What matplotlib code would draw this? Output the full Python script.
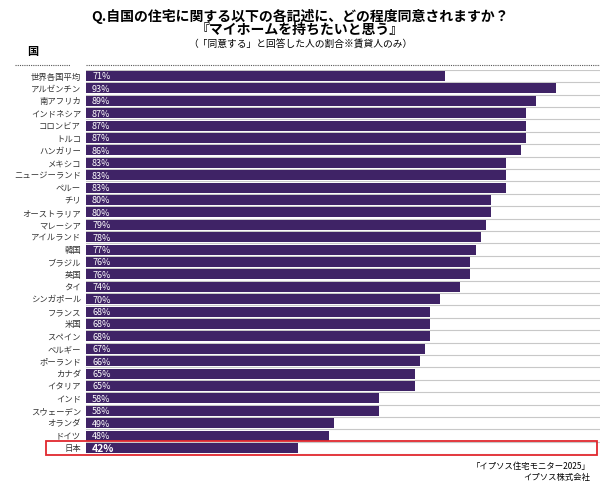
import matplotlib
matplotlib.use("Agg")
import matplotlib.pyplot as plt
from matplotlib.patches import Rectangle
from matplotlib.lines import Line2D

plt.rcParams['font.family'] = ['Noto Sans CJK JP', 'DejaVu Sans']

countries = ["世界各国平均","アルゼンチン","南アフリカ","インドネシア","コロンビア","トルコ","ハンガリー","メキシコ",
             "ニュージーランド","ペルー","チリ","オーストラリア","マレーシア","アイルランド","韓国","ブラジル","英国","タイ",
             "シンガポール","フランス","米国","スペイン","ベルギー","ポーランド","カナダ","イタリア","インド","スウェーデン",
             "オランダ","ドイツ","日本"]
values = [71,93,89,87,87,87,86,83,83,83,80,80,79,78,77,76,76,74,70,68,68,68,67,66,65,65,58,58,49,48,42]

W, H = 600, 489
fig = plt.figure(figsize=(6, 4.89), dpi=100)
n = len(values)
sp = (449 - 77) / (n - 1)
top_px, bot_px = 77 - sp/2, 449 + sp/2
ax = fig.add_axes([86/W, 1 - bot_px/H, 1 - 86/W, (bot_px - top_px)/H])
y = list(range(n))
ax.barh(y, values, height=0.8, color="#3f2366", zorder=3)
for i in range(n + 1):
    ax.axhline(i - 0.5, color="#c8c8c8", lw=0.8, zorder=1)
for i, (c, v) in enumerate(zip(countries, values)):
    last = i == n - 1
    ax.text(1.2, i, f"{v}%", color="white", va="center", ha="left",
            fontsize=7.5 if last else 6.5, fontweight="bold" if last else "normal", zorder=4)
    ax.text(-5/5.06, i, c, va="center", ha="right", fontsize=6, color="#333333")
ax.set_xlim(0, 101.6)
ax.set_ylim(n - 0.5, -0.5)
ax.axis("off")

fig.add_artist(Rectangle((46/W, 1 - 456/H), (597-46)/W, 14/H, transform=fig.transFigure,
                         fill=False, edgecolor="#e0282e", lw=1.3))
fig.add_artist(Line2D([15/W, 70/W], [1-66/H]*2, ls=(0,(1,1)), color="#555555", lw=0.8))
fig.add_artist(Line2D([86/W, 1], [1-66/H]*2, ls=(0,(1,1)), color="#555555", lw=0.8))

fig.text(0.5, 1-16/H, "Q.自国の住宅に関する以下の各記述に、どの程度同意されますか？", ha="center", va="center", fontsize=10, fontweight="bold")
fig.text(0.5, 1-30/H, "『マイホームを持ちたいと思う』", ha="center", va="center", fontsize=10, fontweight="bold")
fig.text(0.5, 1-44/H, "（「同意する」と回答した人の割合※賃貸人のみ）", ha="center", va="center", fontsize=7)
fig.text(27/W, 1-52/H, "国", ha="left", va="center", fontsize=8, fontweight="bold")
fig.text(590/W, 1-467/H, "「イプソス住宅モニター2025」", ha="right", va="center", fontsize=6)
fig.text(590/W, 1-478/H, "イプソス株式会社", ha="right", va="center", fontsize=6)

fig.savefig("out.png", dpi=100, facecolor="white")
